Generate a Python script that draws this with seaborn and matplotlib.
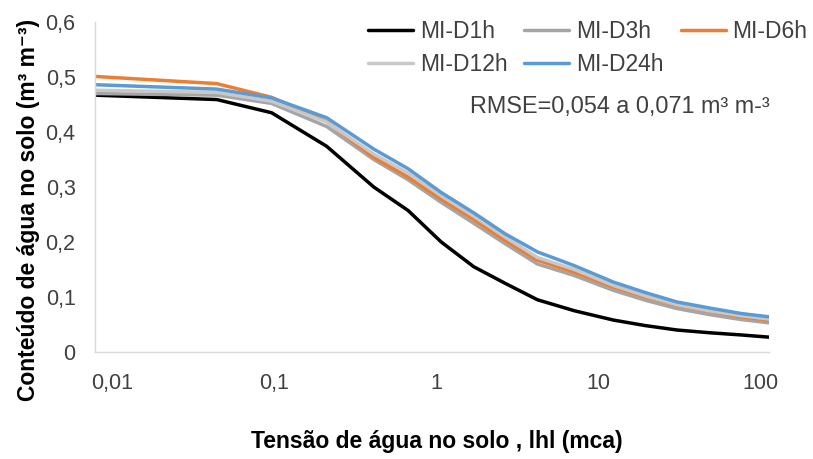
import matplotlib
matplotlib.use("Agg")
import matplotlib.pyplot as plt
import seaborn as sns
import pandas as pd
import numpy as np

# ---- data ----
tension = [0.0078, 0.044, 0.096, 0.21, 0.41, 0.67, 1.07, 1.7, 2.65, 4.2, 7.1,
           12.4, 19.5, 30.5, 48.5, 76, 113]
d1h = [0.467, 0.459, 0.435, 0.374, 0.300, 0.257, 0.200, 0.155, 0.125, 0.095, 0.075,
       0.058, 0.048, 0.040, 0.035, 0.031, 0.027]
d3h = [0.470, 0.467, 0.452, 0.410, 0.350, 0.313, 0.272, 0.234, 0.197, 0.160, 0.139,
       0.112, 0.094, 0.079, 0.068, 0.059, 0.053]
d6h = [0.501, 0.488, 0.463, 0.419, 0.354, 0.318, 0.278, 0.241, 0.203, 0.167, 0.145,
       0.118, 0.100, 0.085, 0.074, 0.064, 0.058]
d12h = [0.476, 0.472, 0.456, 0.418, 0.360, 0.325, 0.284, 0.247, 0.209, 0.172, 0.150,
        0.121, 0.102, 0.086, 0.075, 0.066, 0.060]
d24h = [0.486, 0.478, 0.462, 0.426, 0.369, 0.333, 0.290, 0.253, 0.215, 0.182, 0.157,
        0.127, 0.108, 0.091, 0.080, 0.070, 0.064]

series_names = ["MI-D1h", "MI-D3h", "MI-D6h", "MI-D12h", "MI-D24h"]
series_values = [d1h, d3h, d6h, d12h, d24h]
colors = ["#000000", "#A5A5A5", "#ED7D31", "#C8C8C8", "#5B9BD5"]

x_ticks = [0.01, 0.1, 1, 10, 100]
x_ticklabels = ["0,01", "0,1", "1", "10", "100"]
y_ticks = [0, 0.1, 0.2, 0.3, 0.4, 0.5, 0.6]
y_ticklabels = ["0", "0,1", "0,2", "0,3", "0,4", "0,5", "0,6"]

xlabel = "Tensão de água no solo , lhl (mca)"
ylabel = "Conteúdo de água no solo (m³ m⁻³)"
note = "RMSE=0,054 a 0,071 m³ m-³"

df = pd.DataFrame({
    "h": np.tile(tension, len(series_names)),
    "theta": np.concatenate(series_values),
    "serie": np.repeat(series_names, len(tension)),
})

sns.set_theme(style="white")
plt.rcParams["font.family"] = ["Liberation Sans", "DejaVu Sans"]

W, H = 813, 459
fig = plt.figure(figsize=(W / 100, H / 100), dpi=100)
ax_l, ax_r, ax_t, ax_b = 95, 769, 22, 352
ax = fig.add_axes([ax_l / W, 1 - ax_b / H, (ax_r - ax_l) / W, (ax_b - ax_t) / H])

sns.lineplot(data=df, x="h", y="theta", hue="serie", hue_order=series_names,
             palette=dict(zip(series_names, colors)), linewidth=2.5,
             ax=ax, legend=True, sort=False)

ax.set_xscale("log")
ax.set_xlim(10 ** -2.108, 10 ** 2.053)
ax.set_ylim(0, 0.6)
ax.set_xticks(x_ticks)
ax.set_xticklabels(x_ticklabels)
ax.xaxis.set_minor_locator(matplotlib.ticker.NullLocator())
ax.set_yticks(y_ticks)
ax.set_yticklabels(y_ticklabels)
ax.tick_params(axis="x", length=0, pad=15, labelsize=15.5, labelcolor="#404040")
ax.tick_params(axis="y", length=0, pad=14, labelsize=15.5, labelcolor="#404040")

for s in ["top", "right"]:
    ax.spines[s].set_visible(False)
for s in ["left", "bottom"]:
    ax.spines[s].set_color("#D9D9D9")
    ax.spines[s].set_linewidth(1.0)

ax.set_xlabel(xlabel, fontsize=16.5, fontweight="bold", color="#000000")
ax.set_ylabel(ylabel, fontsize=16.5, fontweight="bold", color="#000000")
ax.xaxis.set_label_coords((437 - ax_l) / (ax_r - ax_l), (ax_b - 430) / (ax_b - ax_t))
ax.yaxis.set_label_coords((40 - ax_l) / (ax_r - ax_l), (ax_b - 210) / (ax_b - ax_t))

handles, labels = ax.get_legend_handles_labels()
hmap = dict(zip(labels, handles))
order = ["MI-D1h", "MI-D12h", "MI-D3h", "MI-D24h", "MI-D6h"]
ax.get_legend().remove()
leg = fig.legend([hmap[k] for k in order], order, ncol=3, loc="upper left",
                 bbox_to_anchor=(368 / W, 1 - 20 / H), frameon=False,
                 fontsize=16.5, handlelength=1.96, handletextpad=0.3,
                 columnspacing=0.74, labelspacing=0.42, borderpad=0,
                 borderaxespad=0)
for t in leg.get_texts():
    t.set_color("#404040")

fig.text(470 / W, 1 - 107 / H, note, fontsize=16.8, color="#404040",
         ha="left", va="center")

fig.savefig("out.png", dpi=100)
